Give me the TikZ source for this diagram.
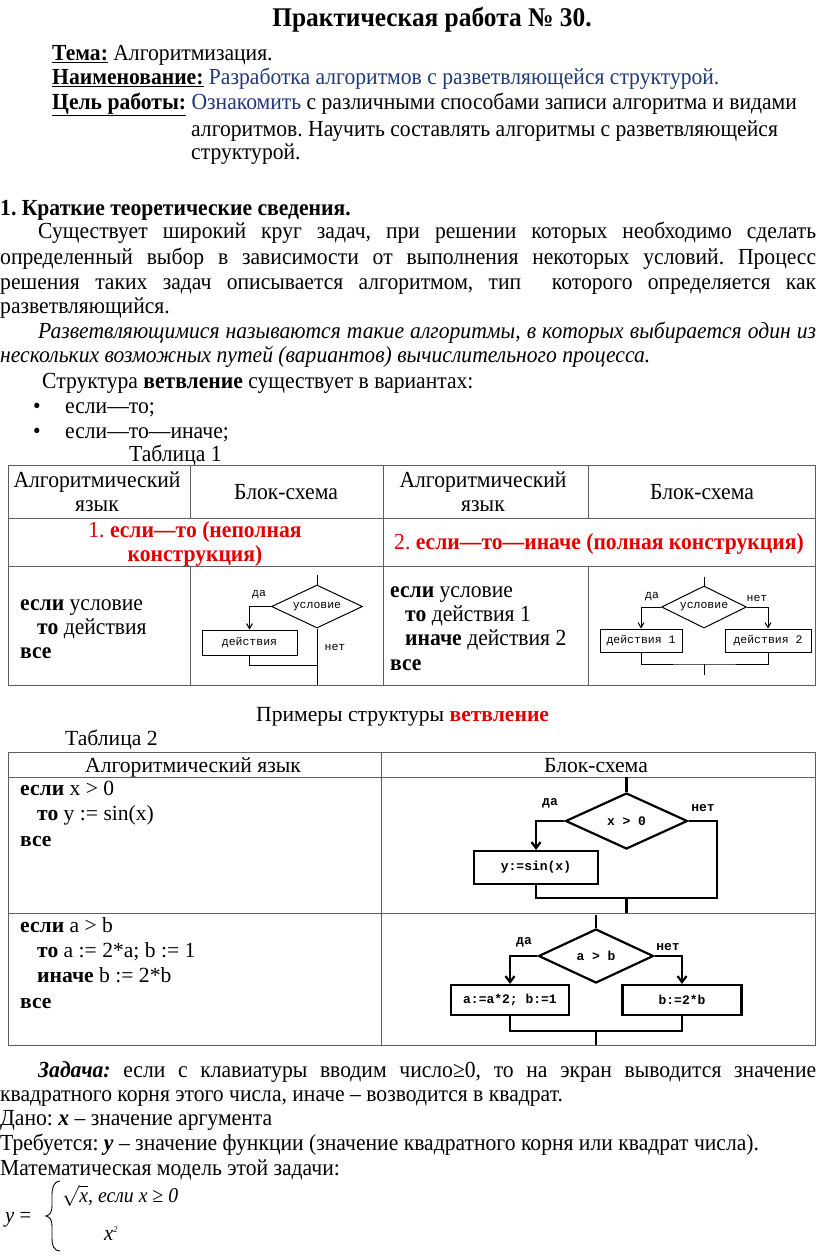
\documentclass[tikz,border=0pt]{standalone}
\usepackage{fontspec}
\setmainfont{Liberation Serif}
\newfontfamily\narrowfont{Liberation Serif}[FakeStretch=0.94]
\newfontfamily\chartfont{Liberation Mono}
\usetikzlibrary{positioning,arrows.meta,shapes.geometric}
\definecolor{docblue}{RGB}{31,56,120}
\definecolor{docred}{RGB}{228,0,0}
\definecolor{rulegray}{RGB}{95,95,95}
\frenchspacing

\tikzset{
  txt/.style={anchor=base west, inner sep=0pt, font=\narrowfont\fontsize{23}{25}\selectfont},
  tbl/.style={anchor=base west, inner sep=0pt, font=\fontsize{21.6}{24}\selectfont},
  cond/.style={diamond, draw, aspect=2.2, inner sep=0pt},
  act/.style={rectangle, draw, inner sep=0pt},
  smallchart/.style={line width=1pt, font=\chartfont\fontsize{11.5}{12}\selectfont},
  bigchart/.style={line width=2.2pt, font=\chartfont\bfseries\fontsize{13}{14}\selectfont},
  lbl/.style={inner sep=0pt, anchor=center}
}

\begin{document}
\begin{tikzpicture}[x=1pt,y=-1pt]
\useasboundingbox (0,0) rectangle (816,1256);

% header
\node[anchor=base, inner sep=0pt, font=\narrowfont\bfseries\fontsize{27}{30}\selectfont] (title) at (432,26) {Практическая работа № 30.};
\node[txt] (tema) at (52,60) {\underline{\textbf{Тема:}} Алгоритмизация.};
\node[txt] (naim) at (52,84) {\underline{\textbf{Наименование:}} \textcolor{docblue}{Разработка алгоритмов с разветвляющейся структурой.}};
\node[txt] (cel) at (52,109) {\underline{\textbf{Цель работы:}} \textcolor{docblue}{Ознакомить} с различными способами записи алгоритма и видами};
\node[txt] (cel2) at (191,136) {алгоритмов. Научить составлять алгоритмы с разветвляющейся};
\node[txt] (cel3) at (191,159) {структурой.};

% theory
\node[txt] (sec1) at (0,215) {\textbf{1. Краткие теоретические сведения.}};
\node[txt] (p1) at (38,238) {\makebox[778pt][s]{Существует широкий круг задач, при решении которых необходимо сделать}};
\node[txt] (p2) at (0,264) {\makebox[816pt][s]{определенный выбор в зависимости от выполнения некоторых условий. Процесс}};
\node[txt] (p3) at (0,289) {\makebox[816pt][s]{решения таких задач описывается алгоритмом, тип \ которого определяется как}};
\node[txt] (p4) at (0,313) {разветвляющийся.};
\node[txt] (it1) at (38,338) {\makebox[778pt][s]{\itshape Разветвляющимися называются такие алгоритмы, в которых выбирается один из}};
\node[txt] (it2) at (0,362) {\itshape нескольких возможных путей (вариантов) вычислительного процесса.};
\node[txt] (struct) at (42,388) {Структура \textbf{ветвление} существует в вариантах:};
\node[txt] (b1) at (33,413) {•};
\node[txt] (v1) at (65,413) {если—то;};
\node[txt] (b2) at (33,438) {•};
\node[txt] (v2) at (65,438) {если—то—иначе;};
\node[txt] (tab1) at (129,461) {Таблица 1};

% table 1
\draw[rulegray, line width=1pt] (8,465) rectangle (815.5,685);
\draw[rulegray, line width=1pt] (8,518) -- (815.5,518) (8,566) -- (815.5,566);
\draw[rulegray, line width=1pt] (190,465) -- (190,518) (190,566) -- (190,685);
\draw[rulegray, line width=1pt] (383,465) -- (383,685);
\draw[rulegray, line width=1pt] (588,465) -- (588,518) (588,566) -- (588,685);

\node[txt, anchor=base] (h1a) at (97,487) {Алгоритмический};
\node[txt, anchor=base] (h1b) at (97,511) {язык};
\node[txt, anchor=base] (h2) at (286,499) {Блок-схема};
\node[txt, anchor=base] (h3a) at (483,487) {Алгоритмический};
\node[txt, anchor=base] (h3b) at (483,511) {язык};
\node[txt, anchor=base] (h4) at (702,499) {Блок-схема};

\node[txt, anchor=base, text=docred] (r1a) at (195,537) {1. \textbf{если—то (неполная}};
\node[txt, anchor=base, text=docred] (r1b) at (195,561) {\textbf{конструкция)}};
\node[txt, anchor=base, text=docred] (r2) at (599,549) {2. \textbf{если—то—иначе (полная конструкция)}};

\node[txt] (k1a) at (20,610) {\textbf{если} условие};
\node[txt] (k1b) at (37,634) {\textbf{то} действия};
\node[txt] (k1c) at (20,658) {\textbf{все}};
\node[txt] (k2a) at (390,597) {\textbf{если} условие};
\node[txt] (k2b) at (405,621) {\textbf{то} действия 1};
\node[txt] (k2c) at (405,645) {\textbf{иначе} действия 2};
\node[txt] (k2d) at (390,670) {\textbf{все}};

% chart 1
\begin{scope}[smallchart]
\node[cond, minimum width=91, minimum height=43] (c1) at (317,606.5) {условие};
\node[act, minimum width=95, minimum height=25] (a1) at (249.5,642.5) {действия};
\coordinate (c1in) at (317,575);
\coordinate (c1out) at (317,685);
\coordinate (c1join) at (317,665);
\draw (c1in) -- (c1.north);
\draw[-{Straight Barb[length=5pt,width=6pt]}] (c1.west) -| (a1.north);
\draw (c1.south) -- (c1out);
\draw (a1.south) |- (c1join);
\node[lbl] (yes1) at (259,595) {да};
\node[lbl] (no1) at (335,647) {нет};
\end{scope}

% chart 2
\begin{scope}[smallchart]
\node[cond, minimum width=85, minimum height=42] (c2) at (704,607) {условие};
\node[act, minimum width=82, minimum height=23] (a2) at (641,640.5) {действия 1};
\node[act, minimum width=86, minimum height=23] (b2) at (768,640.5) {действия 2};
\coordinate (c2in) at (704,577);
\coordinate (c2join) at (704,664);
\coordinate (c2out) at (704,675);
\draw (c2in) -- (c2.north);
\draw[-{Straight Barb[length=5pt,width=6pt]}] (c2.west) -| (a2.north);
\draw[-{Straight Barb[length=5pt,width=6pt]}] (c2.east) -| (b2.north);
\draw (a2.south) |- (c2join) -| (b2.south);
\draw (c2join) -- (c2out);
\node[lbl] (yes2) at (652,597) {да};
\node[lbl] (no2) at (757,598) {нет};
\end{scope}

% examples
\node[tbl] (prim) at (256,721) {Примеры структуры \textcolor{docred}{\textbf{ветвление}}};
\node[tbl] (tab2) at (65,745) {Таблица 2};

% table 2
\draw[rulegray, line width=1pt] (8,752) rectangle (815.5,1045);
\draw[rulegray, line width=1pt] (8,777) -- (815.5,777) (8,913) -- (815.5,913);
\draw[rulegray, line width=1pt] (381,752) -- (381,1045);
\node[tbl, anchor=base] (g1) at (193,772) {Алгоритмический язык};
\node[tbl, anchor=base] (g2) at (596,772) {Блок-схема};

\node[tbl] (x1) at (20,795) {\textbf{если} x > 0};
\node[tbl] (x2) at (37,820) {\textbf{то} y := sin(x)};
\node[tbl] (x3) at (20,846) {\textbf{все}};
\node[tbl] (y1) at (20,932) {\textbf{если} a > b};
\node[tbl] (y2) at (37,957) {\textbf{то} a := 2*a; b := 1};
\node[tbl] (y3) at (37,982) {\textbf{иначе} b := 2*b};
\node[tbl] (y4) at (20,1008) {\textbf{все}};

% chart 3
\begin{scope}[bigchart]
\node[cond, minimum width=122, minimum height=56] (c3) at (626.5,821) {x > 0};
\node[act, minimum width=124, minimum height=33] (a3) at (536,867.5) {y:=sin(x)};
\coordinate (c3in) at (626.5,777);
\coordinate (c3right) at (717,821);
\coordinate (c3join) at (626.5,898);
\coordinate (c3out) at (626.5,913);
\draw (c3in) -- (c3.north);
\draw[-{Straight Barb[length=6pt,width=9pt]}] (c3.west) -| (a3.north);
\draw (c3.east) -- (c3right) |- (c3join);
\draw (a3.south) |- (c3join);
\draw (c3join) -- (c3out);
\node[lbl] (yes3) at (550,803) {да};
\node[lbl] (no3) at (703,808) {нет};
\end{scope}

% chart 4
\begin{scope}[bigchart]
\node[cond, minimum width=115, minimum height=54] (c4) at (596,956) {a > b};
\node[act, minimum width=118, minimum height=30] (a4) at (510,1000) {a:=a*2; b:=1};
\node[act, minimum width=119, minimum height=30] (b4) at (682,1000) {b:=2*b};
\coordinate (c4in) at (596,915);
\coordinate (c4join) at (596,1031);
\coordinate (c4out) at (596,1045);
\draw (c4in) -- (c4.north);
\draw[-{Straight Barb[length=6pt,width=9pt]}] (c4.west) -| (a4.north);
\draw[-{Straight Barb[length=6pt,width=9pt]}] (c4.east) -| (b4.north);
\draw (a4.south) |- (c4join) -| (b4.south);
\draw (c4join) -- (c4out);
\node[lbl] (yes4) at (524,942) {да};
\node[lbl] (no4) at (668,947) {нет};
\end{scope}

% task
\node[txt] (z1) at (38,1077) {\makebox[778pt][s]{\textbf{\textit{Задача:}} если с клавиатуры вводим число≥0, то на экран выводится значение}};
\node[txt] (z2) at (0,1101) {квадратного корня этого числа, иначе – возводится в квадрат.};
\node[txt] (z3) at (0,1125) {Дано: \textbf{\textit{x}} – значение аргумента};
\node[txt] (z4) at (0,1150) {Требуется: \textbf{\textit{y}} – значение функции (значение квадратного корня или квадрат числа).};
\node[txt] (z5) at (0,1175) {Математическая модель этой задачи:};

% formula
\node[txt, font=\narrowfont\fontsize{22}{24}\selectfont] (yeq) at (5,1222) {\textit{y} =};
\draw[line width=0.9pt] (60,1181) .. controls (53,1182) and (52,1188) .. (52,1196)
  -- (52,1206) .. controls (52,1212) and (50,1215) .. (46,1216)
  .. controls (50,1217) and (52,1220) .. (52,1226)
  -- (52,1238) .. controls (52,1245) and (53,1250) .. (60,1251);
\node[txt, font=\narrowfont\itshape\fontsize{21}{24}\selectfont] (case1) at (62,1202) {\smash{$\sqrt{\mbox{\narrowfont\itshape x}}$}, если x ≥ 0};
\node[txt, font=\narrowfont\itshape\fontsize{22}{24}\selectfont] (case2) at (104,1240) {x\textsuperscript{\fontsize{9}{9}\selectfont 2}};
\end{tikzpicture}
\end{document}
